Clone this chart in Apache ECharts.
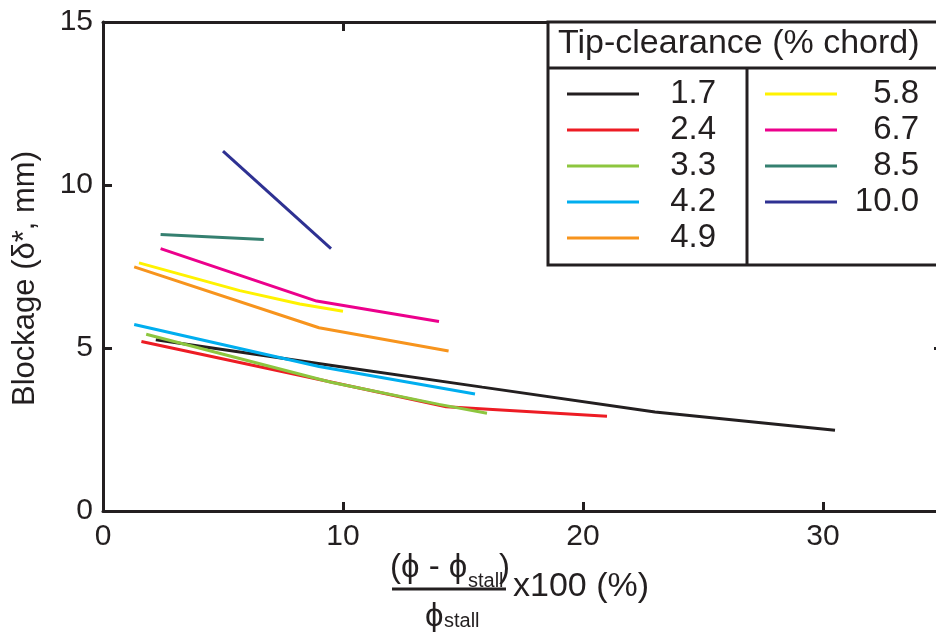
<!DOCTYPE html>
<html>
<head>
<meta charset="utf-8">
<script src="https://cdn.jsdelivr.net/npm/echarts@6/dist/echarts.min.js"></script>
<style>html,body{margin:0;padding:0;background:#fff;}#c{width:936px;height:632px;}</style>
</head>
<body>
<div id="c"></div>
<script>
// ---- data ----
const seriesNames = ['1.7', '2.4', '3.3', '4.2', '4.9', '5.8', '6.7', '8.5', '10.0'];
const x_1_7 = [2.2, 9.4, 15.8, 23.0, 30.5];
const y_1_7 = [5.25, 4.48, 3.80, 3.04, 2.48];
const x_2_4 = [1.6, 9.4, 14.3, 21.0];
const y_2_4 = [5.20, 3.97, 3.20, 2.91];
const x_3_3 = [1.8, 9.5, 14.0, 16.0];
const y_3_3 = [5.42, 3.95, 3.27, 3.00];
const x_4_2 = [1.3, 9.0, 15.5];
const y_4_2 = [5.72, 4.43, 3.59];
const x_4_9 = [1.3, 9.0, 14.4];
const y_4_9 = [7.49, 5.62, 4.91];
const x_5_8 = [1.5, 5.7, 8.2, 10.0];
const y_5_8 = [7.61, 6.76, 6.35, 6.13];
const x_6_7 = [2.4, 8.9, 14.0];
const y_6_7 = [8.05, 6.44, 5.81];
const x_8_5 = [2.4, 6.7];
const y_8_5 = [8.48, 8.33];
const x_10_0 = [5.0, 9.5];
const y_10_0 = [11.04, 8.05];
const xTicks = [0, 10, 20, 30];
const yTicks = [0, 5, 10, 15];

const xs = [x_1_7, x_2_4, x_3_3, x_4_2, x_4_9, x_5_8, x_6_7, x_8_5, x_10_0];
const ys = [y_1_7, y_2_4, y_3_3, y_4_2, y_4_9, y_5_8, y_6_7, y_8_5, y_10_0];
const colors = ['#231f20', '#ed1c24', '#8dc63f', '#00aeef', '#f7941d', '#fff200', '#ec008c', '#358070', '#2e3192'];

const FONT = "'Liberation Sans', Arial, Helvetica, sans-serif";
const INK = '#231f20';
const PHI = '\u03D5';

const chart = echarts.init(document.getElementById('c'), null, {renderer: 'canvas'});

const series = seriesNames.map((n, i) => ({
  name: n,
  type: 'line',
  data: xs[i].map((x, j) => [x, ys[i][j]]),
  showSymbol: false,
  symbol: 'none',
  smooth: false,
  lineStyle: {width: 3, color: colors[i]},
  itemStyle: {color: colors[i]},
  z: 2 + i
}));

const axisCommon = {
  axisLine: {show: true, onZero: false, lineStyle: {color: INK, width: 3}},
  axisTick: {show: true, inside: true, length: 9, lineStyle: {color: INK, width: 3}},
  splitLine: {show: false}
};

const legendCommon = {
  orient: 'vertical',
  top: 76,
  icon: 'rect',
  itemWidth: 72,
  itemHeight: 3,
  itemGap: 0,
  padding: 0,
  selectedMode: false,
  z: 200,
  formatter: name => '{n|' + name + '}',
};

const option = {
  backgroundColor: '#fff',
  animation: false,
  textStyle: {fontFamily: FONT, color: INK},
  grid: {left: 103, top: 22, width: 840, height: 489, containLabel: false, outerBoundsMode: 'none'},
  xAxis: [
    Object.assign({}, axisCommon, {
      type: 'value', position: 'bottom', min: 0, max: 35, interval: 10,
      axisLabel: {show: true, showMaxLabel: false, margin: 11, fontSize: 30, color: INK, fontFamily: FONT}
    }),
    Object.assign({}, axisCommon, {
      type: 'value', position: 'top', min: 0, max: 35, interval: 10,
      axisLabel: {show: false}
    })
  ],
  yAxis: [
    Object.assign({}, axisCommon, {
      type: 'value', position: 'left', min: 0, max: 15, interval: 5,
      axisLabel: {show: true, margin: 10, fontSize: 30, color: INK, fontFamily: FONT},
      name: 'Blockage (δ*, mm)',
      nameLocation: 'middle',
      nameGap: 62,
      nameTextStyle: {fontSize: 31, color: INK, fontFamily: FONT, padding: [0, 24, 0, 0]}
    }),
    Object.assign({}, axisCommon, {
      type: 'value', position: 'right', min: 0, max: 15, interval: 5,
      axisLabel: {show: false}
    })
  ],
  legend: [
    Object.assign({}, legendCommon, {
      left: 567,
      data: seriesNames.slice(0, 5),
      textStyle: {fontSize: 33, lineHeight: 36, color: INK, fontFamily: FONT,
        rich: {n: {width: 72, align: 'right', fontSize: 33, lineHeight: 36, color: INK, fontFamily: FONT}}}
    }),
    Object.assign({}, legendCommon, {
      left: 765,
      data: seriesNames.slice(5),
      textStyle: {fontSize: 33, lineHeight: 36, color: INK, fontFamily: FONT,
        rich: {n: {width: 77, align: 'right', fontSize: 33, lineHeight: 36, color: INK, fontFamily: FONT}}}
    })
  ],
  graphic: [
    {type: 'rect', z: 100, shape: {x: 548, y: 22, width: 420, height: 243},
     style: {fill: '#fff', stroke: INK, lineWidth: 3}},
    {type: 'line', z: 101, shape: {x1: 548, y1: 68, x2: 968, y2: 68}, style: {stroke: INK, lineWidth: 3}},
    {type: 'line', z: 101, shape: {x1: 747, y1: 68, x2: 747, y2: 265}, style: {stroke: INK, lineWidth: 3}},
    {type: 'text', z: 101, left: 558, top: 27,
     style: {text: 'Tip-clearance (% chord)', fontSize: 34, fontFamily: FONT, fill: INK}},
    // x-axis title: fraction
    {type: 'text', z: 101, left: 390, top: 551,
     style: {text: '(' + PHI + ' - ' + PHI, fontSize: 33, fontFamily: FONT, fill: INK}},
    {type: 'text', z: 101, left: 468, top: 571,
     style: {text: 'stall', fontSize: 20, fontFamily: FONT, fill: INK}},
    {type: 'text', z: 101, left: 499, top: 551,
     style: {text: ')', fontSize: 33, fontFamily: FONT, fill: INK}},
    {type: 'line', z: 101, shape: {x1: 392, y1: 589, x2: 506, y2: 589}, style: {stroke: INK, lineWidth: 3}},
    {type: 'text', z: 101, left: 425, top: 600,
     style: {text: PHI, fontSize: 33, fontFamily: FONT, fill: INK}},
    {type: 'text', z: 101, left: 444, top: 611,
     style: {text: 'stall', fontSize: 20, fontFamily: FONT, fill: INK}},
    {type: 'text', z: 101, left: 513, top: 570,
     style: {text: 'x100 (%)', fontSize: 34, fontFamily: FONT, fill: INK}}
  ],
  series: series
};

chart.setOption(option);
</script>
</body>
</html>
